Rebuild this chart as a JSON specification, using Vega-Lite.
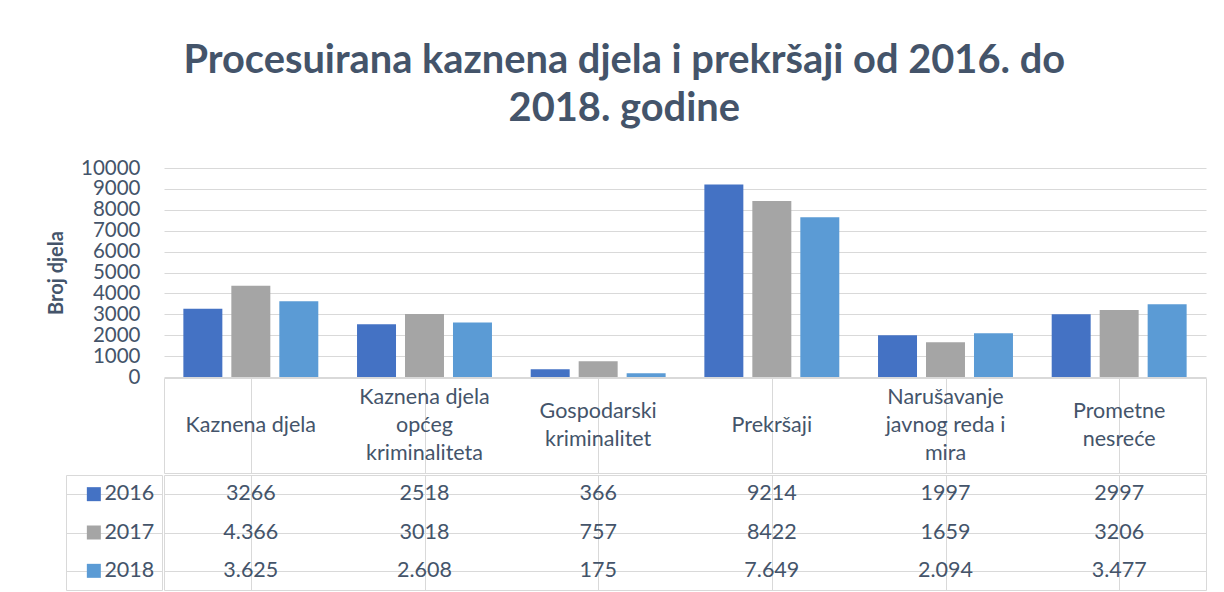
{
  "$schema": "https://vega.github.io/schema/vega-lite/v6.json",
  "padding": {"left": 46, "top": 41, "right": 0, "bottom": 0},
  "background": "white",
  "title": {
    "text": ["Procesuirana kaznena djela i prekršaji od 2016. do", "2018. godine"],
    "font": "Lato", "fontSize": 39.8, "fontWeight": "bold", "color": "#44546A",
    "lineHeight": 48, "anchor": "middle", "offset": 27, "dx": -2
  },
  "datasets": {
    "d": [
      {"cat": "Kaznena djela", "year": "2016", "value": 3266, "label": "3266"},
      {"cat": "Kaznena djela", "year": "2017", "value": 4366, "label": "4.366"},
      {"cat": "Kaznena djela", "year": "2018", "value": 3625, "label": "3.625"},
      {"cat": "Kaznena djela|općeg|kriminaliteta", "year": "2016", "value": 2518, "label": "2518"},
      {"cat": "Kaznena djela|općeg|kriminaliteta", "year": "2017", "value": 3018, "label": "3018"},
      {"cat": "Kaznena djela|općeg|kriminaliteta", "year": "2018", "value": 2608, "label": "2.608"},
      {"cat": "Gospodarski|kriminalitet", "year": "2016", "value": 366, "label": "366"},
      {"cat": "Gospodarski|kriminalitet", "year": "2017", "value": 757, "label": "757"},
      {"cat": "Gospodarski|kriminalitet", "year": "2018", "value": 175, "label": "175"},
      {"cat": "Prekršaji", "year": "2016", "value": 9214, "label": "9214"},
      {"cat": "Prekršaji", "year": "2017", "value": 8422, "label": "8422"},
      {"cat": "Prekršaji", "year": "2018", "value": 7649, "label": "7.649"},
      {"cat": "Narušavanje|javnog reda i|mira", "year": "2016", "value": 1997, "label": "1997"},
      {"cat": "Narušavanje|javnog reda i|mira", "year": "2017", "value": 1659, "label": "1659"},
      {"cat": "Narušavanje|javnog reda i|mira", "year": "2018", "value": 2094, "label": "2.094"},
      {"cat": "Prometne|nesreće", "year": "2016", "value": 2997, "label": "2997"},
      {"cat": "Prometne|nesreće", "year": "2017", "value": 3206, "label": "3206"},
      {"cat": "Prometne|nesreće", "year": "2018", "value": 3477, "label": "3.477"}
    ]
  },
  "spacing": 0,
  "hconcat": [
    {
      "spacing": 0,
      "vconcat": [
        {
          "width": 116, "height": 317,
          "view": {"stroke": null, "fill": "white"},
          "data": {"values": []},
          "mark": "point",
          "encoding": {
            "y": {
              "field": "value", "type": "quantitative",
              "scale": {"domain": [0, 10000], "range": [220, 11], "nice": false},
              "axis": {
                "values": [0, 1000, 2000, 3000, 4000, 5000, 6000, 7000, 8000, 9000, 10000],
                "format": "d",
                "labelOverlap": false,
                "offset": -116,
                "title": "Broj djela",
                "titleFont": "Lato", "titleFontSize": 20, "titleFontWeight": "bold", "titleColor": "#44546A",
                "titlePadding": 16,
                "labelFont": "Lato", "labelFontSize": 20.5, "labelColor": "#44546A", "labelPadding": 22,
                "minExtent": 80, "maxExtent": 80,
                "ticks": false, "domain": false, "grid": false
              }
            }
          }
        },
        {
          "spacing": 0,
          "bounds": "flush",
          "hconcat": [
            {
              "width": 20, "height": 115,
              "view": {"stroke": null, "fill": "white"},
              "data": {"values": []},
              "mark": "point"
            },
            {
              "width": 96, "height": 115,
              "view": {"stroke": "#D9D9D9"},
              "data": {"name": "d"},
              "transform": [{"filter": "datum.cat == 'Prekršaji'"}],
              "encoding": {
                "y": {
                  "field": "year", "type": "nominal",
                  "scale": {"paddingInner": 0, "paddingOuter": 0},
                  "axis": {"labels": false, "ticks": false, "domain": false, "title": null, "grid": true, "bandPosition": 0, "gridColor": "#D9D9D9"}
                }
              },
              "layer": [
                {
                  "mark": {"type": "square", "size": 196, "opacity": 1, "filled": true},
                  "encoding": {
                    "x": {"datum": 29, "type": "quantitative", "scale": {"domain": [0, 96], "range": [0, 96]}, "axis": null},
                    "color": {
                      "field": "year", "type": "nominal",
                      "scale": {"domain": ["2016", "2017", "2018"], "range": ["#4472C4", "#A5A5A5", "#5B9BD5"]},
                      "legend": null
                    }
                  }
                },
                {
                  "mark": {"type": "text", "align": "left", "font": "Lato", "fontSize": 21.5, "color": "#44546A"},
                  "encoding": {
                    "x": {"datum": 40, "type": "quantitative", "axis": null},
                    "text": {"field": "year", "type": "nominal"}
                  }
                }
              ]
            }
          ]
        }
      ]
    },
    {
      "spacing": 0,
      "vconcat": [
        {
          "width": 1042, "height": 11,
          "view": {"stroke": null, "fill": "white"},
          "data": {"values": []},
          "mark": "point"
        },
        {
          "width": 1042, "height": 209,
          "view": {"stroke": null},
          "data": {"name": "d"},
          "mark": {"type": "bar"},
          "encoding": {
            "x": {
              "field": "cat", "type": "nominal", "sort": null,
              "scale": {"paddingInner": 0.223, "paddingOuter": 0.1115},
              "axis": null
            },
            "xOffset": {
              "field": "year", "type": "nominal",
              "scale": {"paddingInner": 0.1875, "paddingOuter": 0}
            },
            "y": {
              "field": "value", "type": "quantitative",
              "scale": {"domain": [0, 10000], "nice": false},
              "axis": {
                "values": [0, 1000, 2000, 3000, 4000, 5000, 6000, 7000, 8000, 9000, 10000],
                "labels": false, "ticks": false, "domain": false, "title": null,
                "grid": true, "gridColor": "#D9D9D9", "gridWidth": 1
              }
            },
            "color": {
              "field": "year", "type": "nominal",
              "scale": {"domain": ["2016", "2017", "2018"], "range": ["#4472C4", "#A5A5A5", "#5B9BD5"]},
              "legend": null
            }
          }
        },
        {
          "width": 1042, "height": 95,
          "view": {"stroke": "#D9D9D9"},
          "data": {"name": "d"},
          "transform": [{"filter": "datum.year == '2016'"}],
          "mark": {
            "type": "text", "clip": true, "lineBreak": "|", "lineHeight": 28, "font": "Lato", "fontSize": 21.5, "color": "#44546A",
            "dy": {"expr": "-(length(split(datum.cat, '|')) - 1) * 14"}
          },
          "encoding": {
            "x": {
              "field": "cat", "type": "nominal", "sort": null,
              "scale": {"paddingInner": 0, "paddingOuter": 0},
              "axis": {"labels": false, "ticks": false, "domain": false, "title": null, "grid": true, "bandPosition": 0, "gridColor": "#D9D9D9"}
            },
            "text": {"field": "cat", "type": "nominal"}
          }
        },
        {
          "width": 1042, "height": 115,
          "view": {"stroke": "#D9D9D9"},
          "data": {"name": "d"},
          "mark": {"type": "text", "font": "Lato", "fontSize": 21.5, "color": "#44546A"},
          "encoding": {
            "x": {
              "field": "cat", "type": "nominal", "sort": null,
              "scale": {"paddingInner": 0, "paddingOuter": 0},
              "axis": {"labels": false, "ticks": false, "domain": false, "title": null, "grid": true, "bandPosition": 0, "gridColor": "#D9D9D9"}
            },
            "y": {
              "field": "year", "type": "nominal",
              "scale": {"paddingInner": 0, "paddingOuter": 0},
              "axis": {"labels": false, "ticks": false, "domain": false, "title": null, "grid": true, "bandPosition": 0, "gridColor": "#D9D9D9"}
            },
            "text": {"field": "label", "type": "nominal"}
          }
        }
      ]
    }
  ]
}
